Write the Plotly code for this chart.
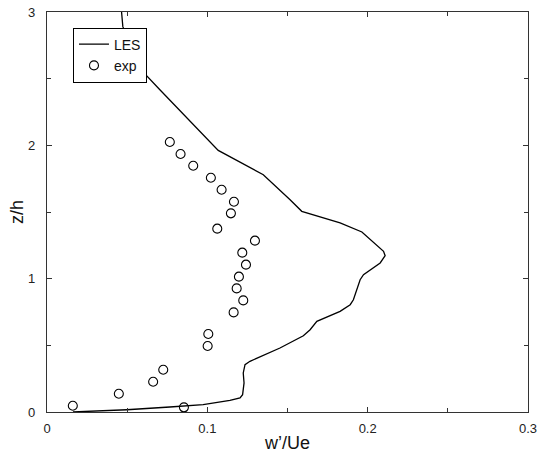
import plotly.graph_objects as go

# LES profile (w'/Ue vs z/h)
les_w = [0.0465, 0.0473, 0.0596, 0.0704, 0.1068, 0.1349, 0.1516, 0.1589, 0.1828, 0.1964,
         0.2099, 0.2109, 0.2078, 0.1974, 0.1953, 0.1911, 0.1891, 0.1828, 0.1683, 0.1641,
         0.1599, 0.1453, 0.1266, 0.1235, 0.1224, 0.1229, 0.1220, 0.1204, 0.1141, 0.0974,
         0.0766, 0.0498, 0.0162]
les_z = [3.0, 2.89, 2.555, 2.417, 1.962, 1.780, 1.592, 1.505, 1.418, 1.350,
         1.205, 1.172, 1.118, 1.030, 0.992, 0.842, 0.805, 0.755, 0.680, 0.617,
         0.572, 0.480, 0.380, 0.355, 0.293, 0.218, 0.130, 0.105, 0.087, 0.055,
         0.0375, 0.017, 0.0]

# Experimental data
exp_w = [0.0766, 0.0833, 0.0912, 0.1022, 0.1089, 0.1166, 0.1147, 0.1062, 0.1297, 0.1218,
         0.1241, 0.1197, 0.1183, 0.1224, 0.1164, 0.1006, 0.1002, 0.0725, 0.0662, 0.0448,
         0.0161, 0.0854]
exp_z = [2.025, 1.935, 1.847, 1.757, 1.667, 1.577, 1.490, 1.375, 1.285, 1.195,
         1.105, 1.015, 0.927, 0.837, 0.747, 0.585, 0.495, 0.317, 0.227, 0.137,
         0.047, 0.035]

x_ticks = [0, 0.1, 0.2, 0.3]
x_labels = ["0", "0.1", "0.2", "0.3"]
y_ticks = [0, 1, 2, 3]
y_labels = ["0", "1", "2", "3"]

FONT = "Liberation Sans, Arial, sans-serif"

fig = go.Figure()
fig.add_trace(go.Scatter(x=les_w, y=les_z, mode="lines", name="LES",
                         line=dict(color="black", width=1.3)))
fig.add_trace(go.Scatter(x=exp_w, y=exp_z, mode="markers", name="exp",
                         marker=dict(symbol="circle-open", size=9,
                                     color="black", line=dict(width=1.1))))

axis_common = dict(
    showgrid=False, zeroline=False, showline=True, linecolor="#333", linewidth=1.2,
    mirror="ticks", ticks="inside", ticklen=5, tickwidth=1, tickcolor="#333",
    tickfont=dict(family=FONT, size=13, color="#222"),
    minor=dict(ticks="inside", ticklen=4, tickwidth=1, tickcolor="#333"),
    automargin=False,
)

fig.update_xaxes(range=[0, 0.3], tickvals=x_ticks, ticktext=x_labels,
                 minor_dtick=0.05, ticklabelstandoff=4,
                 title=dict(text="w’/Ue",
                            font=dict(family=FONT, size=18, color="#111")),
                 **axis_common)
fig.update_yaxes(range=[0, 3], tickvals=y_ticks, ticktext=y_labels,
                 minor_dtick=0.5, ticklabelstandoff=8,
                 **axis_common)

fig.add_annotation(text="z/h", xref="paper", yref="paper", x=-0.0624, y=0.5,
                   xanchor="center", yanchor="middle", textangle=-90, showarrow=False,
                   font=dict(family=FONT, size=18, color="#111"))

fig.update_layout(
    width=538, height=453,
    margin=dict(l=47, r=10, t=12, b=41, autoexpand=False),
    plot_bgcolor="white", paper_bgcolor="white",
    showlegend=True,
    legend=dict(x=0.054, y=0.961, xanchor="left", yanchor="top",
                bgcolor="white", bordercolor="black", borderwidth=1,
                font=dict(family=FONT, size=14, color="#111"),
                itemwidth=30, tracegroupgap=0),
)

fig.write_html("out.html")
